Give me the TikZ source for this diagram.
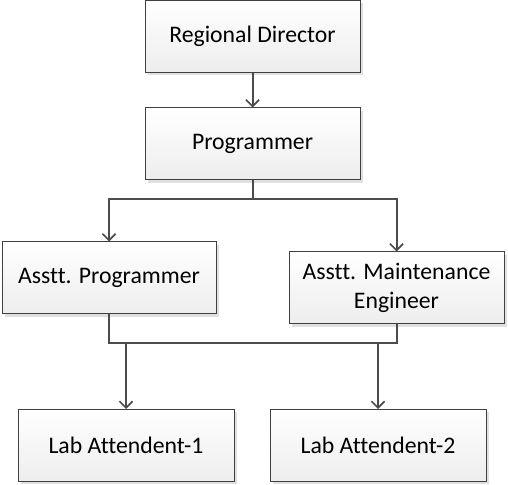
\documentclass[tikz,border=0pt]{standalone}
\usepackage{fontspec}
\setmainfont{Carlito}[Ligatures=NoCommon]
\usetikzlibrary{arrows.meta,shadows}
\tikzset{
  orgbox/.style={draw=black!75, line width=0.75pt, top color=white, bottom color=black!7,
    minimum width=#1*0.75pt, minimum height=72*0.75pt, inner sep=0pt, align=center,
    font=\fontsize{17.8}{21.8}\selectfont,
    drop shadow={shadow xshift=2.2pt, shadow yshift=-2.2pt, fill=black!12, opacity=1}},
  orgbox/.default=215,
  link/.style={draw=black!70, line width=1.5pt},
  arr/.style={link, -{Straight Barb[length=5pt,width=10pt,line width=1.2pt]}}
}
\begin{document}
\begin{tikzpicture}[x=0.75pt,y=-0.75pt]
\useasboundingbox (0,0) rectangle (508,485);
\node[orgbox] (rd) at (252.5,36.5) {Regional Director};
\node[orgbox] (pr) at (252.5,144) {Programmer};
\node[orgbox=214] (ap) at (109,278) {Asstt. Programmer};
\node[orgbox] (ame) at (396.5,288) {Asstt. Maintenance\\Engineer};
\node[orgbox=216] (la1) at (126,445.5) {Lab Attendent-1};
\node[orgbox=216] (la2) at (378,445.5) {Lab Attendent-2};
\coordinate (j1) at (252.5,199);
\coordinate (j2) at (109,343);
\draw[arr] (rd.south) -- (pr.north);
\draw[link] (pr.south) -- (j1);
\draw[arr] (j1) -| (ap.north);
\draw[arr] (j1) -| (ame.north);
\draw[link] (ap.south) |- (ame.south |- j2) -- (ame.south);
\draw[arr] (la1.north |- j2) -- (la1.north);
\draw[arr] (la2.north |- j2) -- (la2.north);
\end{tikzpicture}
\end{document}
